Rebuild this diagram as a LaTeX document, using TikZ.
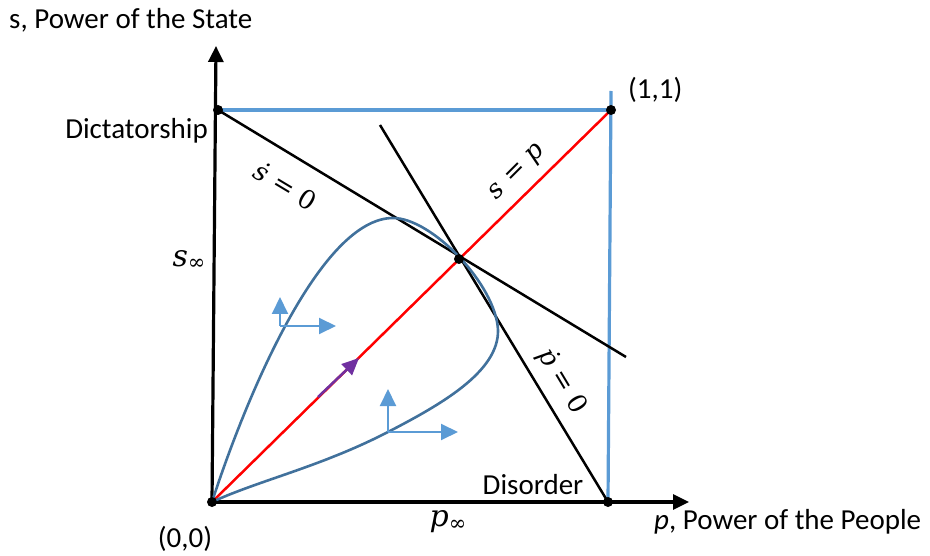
\documentclass[tikz,border=0pt]{standalone}
\usepackage{fontspec}
\setmainfont{Carlito}
\newfontfamily\symfont{DejaVu Serif}
\usetikzlibrary{arrows.meta,positioning}
\definecolor{frameBlue}{HTML}{5B9BD5}
\definecolor{curveBlue}{HTML}{41719C}
\definecolor{arrowPurple}{HTML}{7030A0}
\newcommand{\var}[1]{{\symfont\itshape #1}}
\newcommand{\infsub}{\raisebox{-0.25ex}{\fontsize{21}{21}\selectfont\symfont ∞}}

\begin{document}
\begin{tikzpicture}[
        x=1pt, y=-1pt,
        font=\fontsize{29}{34}\selectfont,
        axis/.style={line width=3.2pt, -{Triangle[length=16pt,width=15pt]}},
        frame/.style={line width=3.2pt, draw=frameBlue},
        nullcline/.style={line width=2.5pt, draw=black},
        orbit/.style={line width=2.6pt, draw=curveBlue},
        flow/.style={line width=2pt, draw=frameBlue, -{Triangle[length=17pt,width=16pt]}},
        dot/.style={circle, fill=black, inner sep=0pt, minimum size=10pt},
        lbl/.style={inner sep=1pt},
        mlbl/.style={inner sep=1pt, font=\fontsize{26}{30}\selectfont\symfont},
        inflbl/.style={inner sep=1pt, font=\fontsize{30}{34}\selectfont\symfont}
      ]
        \useasboundingbox (0,0) rectangle (930,556);
        % points
        \coordinate (O) at (212,502);
        \coordinate (D) at (218,110);
        \coordinate (U) at (611,110);
        \coordinate (R) at (608,502);
        \coordinate (E) at (459,259);
        \coordinate (ytip) at (216,46);
        \coordinate (xtip) at (689,502);
        % unit square
        \draw[frame] (D) -- (U);
        \draw[frame] (R) -- (611,91);
        % axes
        \draw[axis] (O) -- (ytip);
        \draw[axis] (O) -- (xtip);
        % nullclines and diagonal
        \draw[nullcline] (D) -- (626,357);
        \draw[nullcline] (380,125) -- (R);
        \draw[line width=2.5pt, draw=red] (O) -- (U);
        \draw[line width=2.5pt, draw=arrowPurple, -{Triangle[length=17pt,width=15pt]}] (318,397) -- (359,358);
        % orbit
        \draw[orbit] (O) .. controls (245,400) and (320,218) .. (393,218)
          .. controls (432,218) and (496,285) .. (498,330)
          .. controls (499,372) and (440,405) .. (388,432)
          .. controls (320,467) and (260,480) .. (O);
        % flow directions
        \draw[flow] (280,326) -- (280,297);
        \draw[flow] (280,326) -- (336,326);
        \draw[flow] (388,432) -- (388,389);
        \draw[flow] (388,432) -- (458,432);
        % dots
        \foreach \p in {O,D,U,R,E} \node[dot] at (\p) {};
        % labels
        \node[lbl, anchor=west] (ylab) at (8,20) {s, Power of the State};
        \node[lbl, anchor=east] (dict) at (209,131) {Dictatorship};
        \node[inflbl] (sinf) at (189,260) {\var{s}\infsub};
        \node[lbl, anchor=west] (one) at (627,90) {(1,1)};
        \node[lbl] (zero) at (185,539) {(0,0)};
        \node[inflbl] (pinf) at (448,522) {\var{p}\infsub};
        \node[lbl] (dis) at (533,485) {Disorder};
        \node[lbl, anchor=west] (xlab) at (653,522) {\textit{p}, Power of the People};
        \node[mlbl, rotate=-31] (sdot) at (286,186) {\var{ṡ} = 0};
        \node[mlbl, rotate=45] (diag) at (518,173) {\var{s} = \var{p}};
        \node[mlbl, rotate=-59] (pdot) at (562,381) {\var{ṗ} = 0};
      \end{tikzpicture}
\end{document}
